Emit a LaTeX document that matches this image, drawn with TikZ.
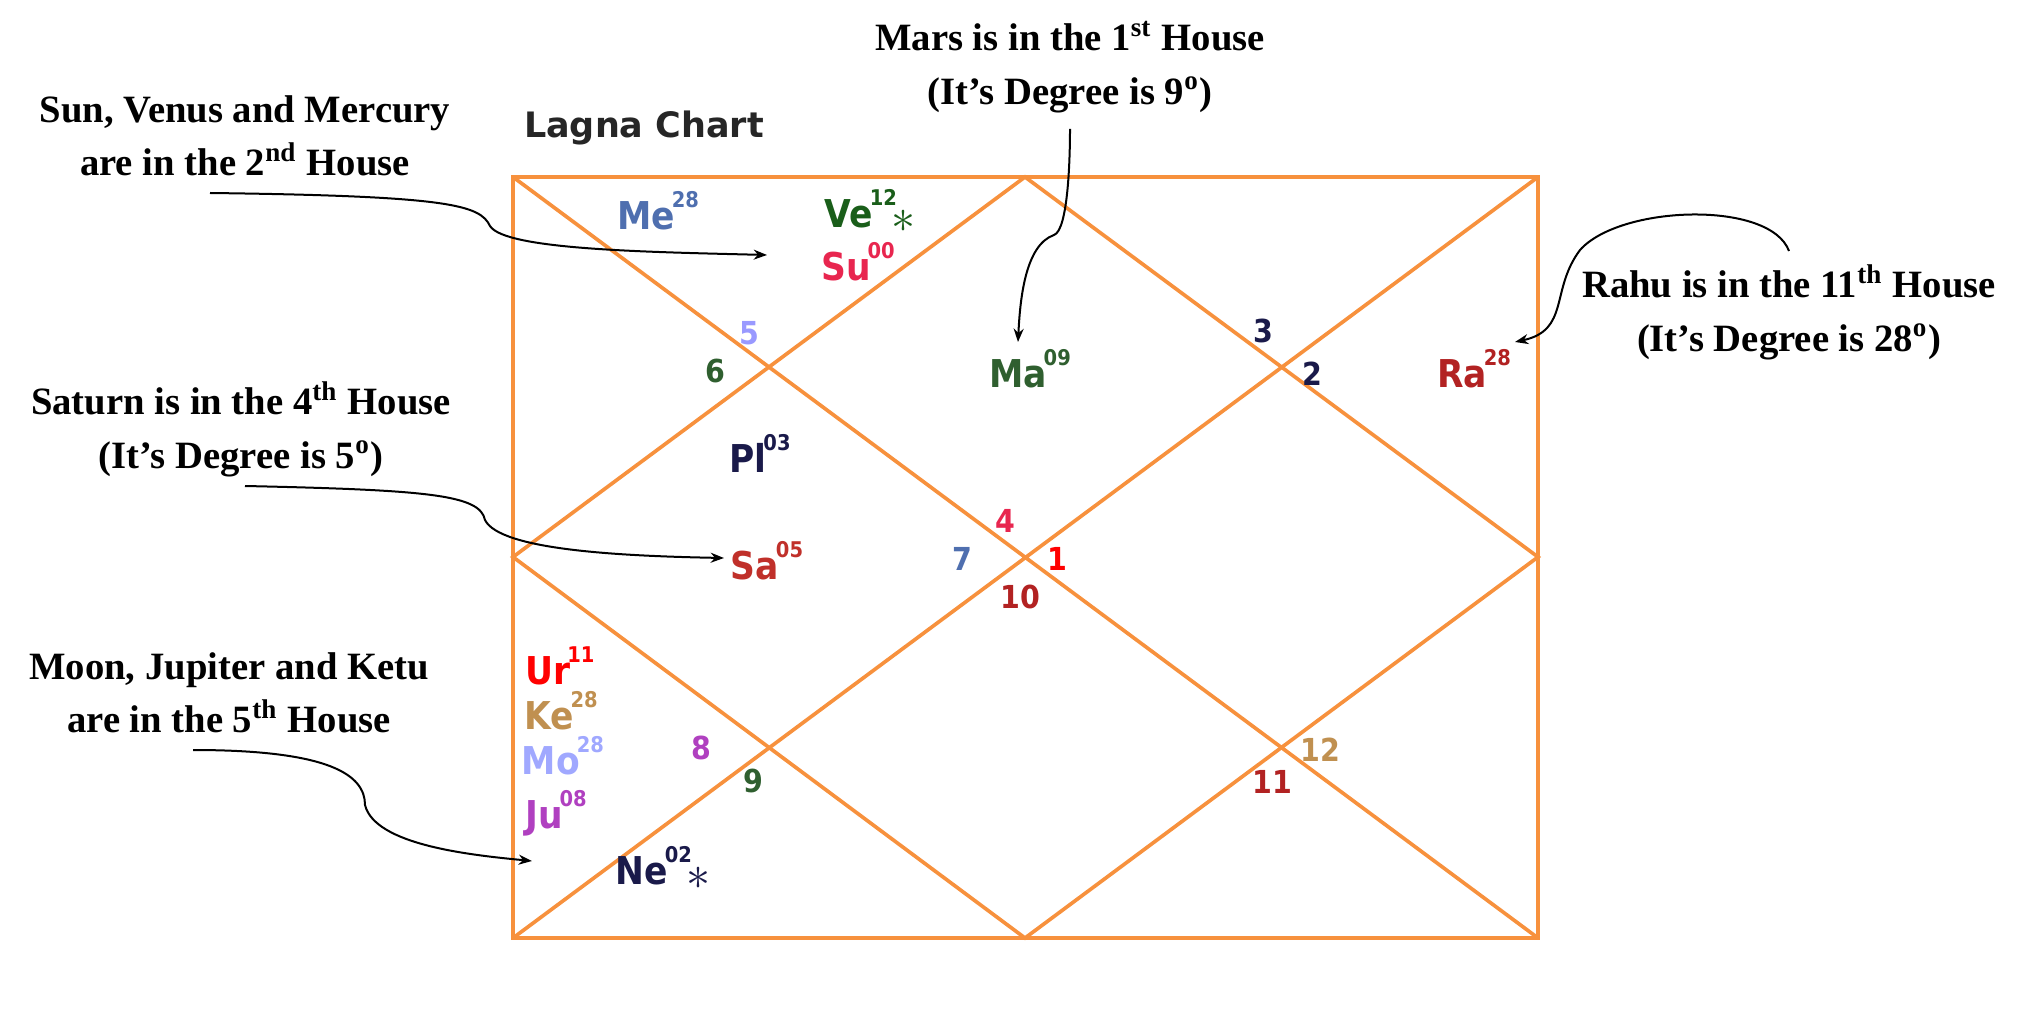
\documentclass[tikz,border=0pt]{standalone}
\usepackage{fontspec}
\setmainfont{Liberation Serif}
\newfontfamily\chartfont{DejaVu Sans Condensed}
\newfontfamily\titlefont{DejaVu Sans}
\usetikzlibrary{arrows.meta}
\definecolor{orng}{HTML}{F7913D}
\definecolor{cMe}{HTML}{4F6FAF}
\definecolor{cVe}{HTML}{1A5E1A}
\definecolor{cSu}{HTML}{E8264F}
\definecolor{cLav}{HTML}{9999FF}
\definecolor{cGr}{HTML}{2F5F2F}
\definecolor{cNv}{HTML}{1A1A4A}
\definecolor{cDr}{HTML}{B22222}
\definecolor{cSa}{HTML}{C0302A}
\definecolor{cKe}{HTML}{C09050}
\definecolor{cMo}{HTML}{A0A8FF}
\definecolor{cJu}{HTML}{B040C0}
\newcommand{\plnt}[2]{#1\kern-0.08em\raisebox{1.05ex}{\fontsize{6.5}{7}\selectfont #2}}
\newcommand{\astr}{\kern-0.15em\raisebox{-0.2ex}{\fontsize{14}{14}\selectfont$\ast$}}
\tikzset{
  ann/.style={font=\fontsize{11.6}{16}\selectfont\bfseries, align=center},
  lab/.style={font=\chartfont\bfseries\fontsize{11.5}{12}\selectfont, inner sep=0pt},
  num/.style={font=\chartfont\bfseries\fontsize{9.5}{10}\selectfont, inner sep=0pt},
  grid/.style={draw=orng, line width=1.1pt},
  arr/.style={-{Stealth[length=4pt]}, line width=0.6pt}
}
\begin{document}
\begin{tikzpicture}[x=0.3pt,y=-0.3pt]
\useasboundingbox (0,0) rectangle (2021,1018);
% chart
\coordinate (TL) at (513,177); \coordinate (TR) at (1538,177);
\coordinate (BL) at (513,938); \coordinate (BR) at (1538,938);
\coordinate (TM) at (1025,177); \coordinate (BM) at (1025,938);
\coordinate (LM) at (513,557); \coordinate (RM) at (1538,557);
\draw[grid] (TL) rectangle (BR);
\draw[grid] (TL) -- (BR) (TR) -- (BL);
\draw[grid] (TM) -- (LM) -- (BM) -- (RM) -- cycle;
\node[font=\titlefont\bfseries\fontsize{10.5}{12}\selectfont, text=black!85] (title) at (644,128) {Lagna Chart};
% planets
\node[lab,text=cMe] (me) at (658,211) {\plnt{Me}{28}};
\node[lab,text=cVe] (ve) at (870,211) {\plnt{Ve}{12}\astr};
\node[lab,text=cSu] (su) at (858,262) {\plnt{Su}{00}};
\node[lab,text=cGr] (ma) at (1030,369) {\plnt{Ma}{09}};
\node[lab,text=cDr] (ra) at (1474,369) {\plnt{Ra}{28}};
\node[lab,text=cNv] (pl) at (760,453) {\plnt{Pl}{03}};
\node[lab,text=cSa] (sa) at (767,561) {\plnt{Sa}{05}};
\node[lab,text=red] (ur) at (560,666) {\plnt{Ur}{11}};
\node[lab,text=cKe] (ke) at (561,711) {\plnt{Ke}{28}};
\node[lab,text=cMo] (mo) at (563,756) {\plnt{Mo}{28}};
\node[lab,text=cJu] (ju) at (556,813) {\plnt{Ju}{08}};
\node[lab,text=cNv] (ne) at (663,868) {\plnt{Ne}{02}\astr};
% house numbers
\node[num,text=cLav] (h5) at (749,333) {5};
\node[num,text=cGr] (h6) at (715,371) {6};
\node[num,text=cNv] (h3) at (1263,331) {3};
\node[num,text=cNv] (h2) at (1312,374) {2};
\node[num,text=cSu] (h4) at (1005,521) {4};
\node[num,text=cMe] (h7) at (962,559) {7};
\node[num,text=red] (h1) at (1057,559) {1};
\node[num,text=cDr] (h10) at (1020,597) {10};
\node[num,text=cJu] (h8) at (701,748) {8};
\node[num,text=cGr] (h9) at (753,781) {9};
\node[num,text=cKe] (h12) at (1320,750) {12};
\node[num,text=cDr] (h11) at (1272,782) {11};
% annotations
\node[ann] (aSun) at (245,136) {Sun, Venus and Mercury\\are in the 2\textsuperscript{nd} House};
\node[ann] (aMa) at (1070,67) {Mars is in the 1\textsuperscript{st} House\\(It’s Degree is 9\textsuperscript{o})};
\node[ann] (aRa) at (1789,312) {Rahu is in the 11\textsuperscript{th} House\\(It’s Degree is 28\textsuperscript{o})};
\node[ann] (aSa) at (241,429) {Saturn is in the 4\textsuperscript{th} House\\(It’s Degree is 5\textsuperscript{o})};
\node[ann] (aMo) at (229,693) {Moon, Jupiter and Ketu\\are in the 5\textsuperscript{th} House};
% arrows
\coordinate (s1) at (210,193); \coordinate (s2) at (767,255);
\draw[arr] (s1) .. controls (450,196) and (480,205) .. (490,226) .. controls (505,250) and (650,252) .. (s2);
\coordinate (m1) at (1070,129); \coordinate (m2) at (1018,342);
\draw[arr] (m1) .. controls (1070,160) and (1068,230) .. (1054,235) .. controls (1025,245) and (1020,300) .. (m2);
\coordinate (r1) at (1789,251); \coordinate (r2) at (1515,342);
\draw[arr] (r1) .. controls (1770,200) and (1620,205) .. (1580,250) .. controls (1550,290) and (1570,330) .. (r2);
\coordinate (t1) at (245,486); \coordinate (t2) at (724,558);
\draw[arr] (t1) .. controls (430,490) and (480,495) .. (485,520) .. controls (500,550) and (620,556) .. (t2);
\coordinate (o1) at (193,750); \coordinate (o2) at (532,861);
\draw[arr] (o1) .. controls (330,750) and (365,775) .. (365,805) .. controls (375,845) and (470,855) .. (o2);
\end{tikzpicture}
\end{document}
